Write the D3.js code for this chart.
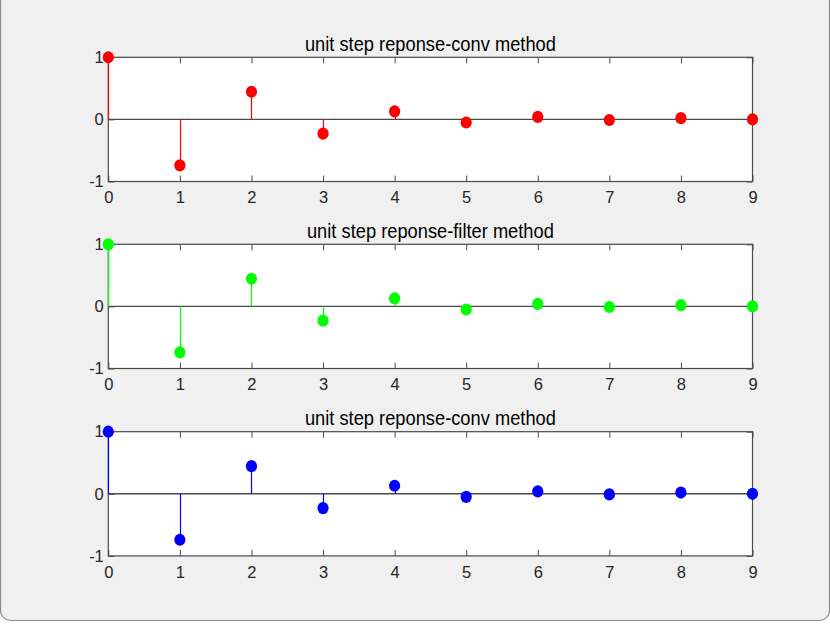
<!DOCTYPE html>
<html>
<head>
<meta charset="utf-8">
<script src="https://cdn.jsdelivr.net/npm/d3@7"></script>
<style>
  html, body { margin: 0; padding: 0; background: #ffffff; }
  svg { display: block; }
  text { font-family: "Liberation Sans", Arial, sans-serif; }
</style>
</head>
<body>
<svg id="chart" width="830" height="624"></svg>
<script>
// ---- data ----
const n = [0, 1, 2, 3, 4, 5, 6, 7, 8, 9];
const convResponse   = [1, -0.74, 0.445, -0.23, 0.13, -0.05, 0.04, -0.01, 0.02, 0.0];
const filterResponse = [1, -0.74, 0.445, -0.23, 0.13, -0.05, 0.04, -0.01, 0.02, 0.0];
const convResponse2  = [1, -0.74, 0.445, -0.23, 0.13, -0.05, 0.04, -0.01, 0.02, 0.0];
const titles = ["unit step reponse-conv method", "unit step reponse-filter method", "unit step reponse-conv method"];
const colors = ["#ff0000", "#00ff00", "#0000ff"];
const xTicks = [0, 1, 2, 3, 4, 5, 6, 7, 8, 9];
const yTicks = [-1, 0, 1];
const seriesList = [convResponse, filterResponse, convResponse2];

// ---- layout ----
const svg = d3.select("#chart");

// window frame
svg.append("rect")
  .attr("x", 0.5).attr("y", -20).attr("width", 829).attr("height", 640.5)
  .attr("rx", 10).attr("ry", 10)
  .attr("fill", "#f0f0f0").attr("stroke", "#8c8c8c").attr("stroke-width", 1.2);

const axLeft = 108.3, axRight = 752.5;
const axTops = [57.3, 244.3, 431.7];
const axH = 124.2;
const axisColor = "#4a4a4a";
const tickLen = 6;
const fmt = d => String(d);

seriesList.forEach((vals, i) => {
  const top = axTops[i];
  const x = d3.scaleLinear().domain([0, 9]).range([axLeft, axRight]);
  const y = d3.scaleLinear().domain([-1, 1]).range([top + axH, top]);
  const g = svg.append("g");

  // axes background
  g.append("rect")
    .attr("x", axLeft).attr("y", top)
    .attr("width", axRight - axLeft).attr("height", axH)
    .attr("fill", "#ffffff");

  // baseline
  g.append("line")
    .attr("x1", axLeft).attr("x2", axRight)
    .attr("y1", y(0)).attr("y2", y(0))
    .attr("stroke", axisColor).attr("stroke-width", 1.4);

  // axes (ticks inward, box on)
  const bottom = g.append("g").attr("transform", `translate(0,${top + axH})`)
    .call(d3.axisBottom(x).tickValues(xTicks).tickSize(-tickLen).tickPadding(10).tickFormat(fmt));
  const topAx = g.append("g").attr("transform", `translate(0,${top})`)
    .call(d3.axisTop(x).tickValues(xTicks).tickSize(-tickLen).tickFormat(""));
  const left = g.append("g").attr("transform", `translate(${axLeft},0)`)
    .call(d3.axisLeft(y).tickValues(yTicks).tickSize(-tickLen).tickPadding(4.5).tickFormat(fmt));
  const right = g.append("g").attr("transform", `translate(${axRight},0)`)
    .call(d3.axisRight(y).tickValues(yTicks).tickSize(-tickLen).tickFormat(""));

  [bottom, topAx, left, right].forEach(a => {
    a.attr("font-size", null).attr("font-family", null);
    a.select(".domain").remove();
    a.selectAll(".tick line").attr("stroke", axisColor).attr("stroke-width", 1);
    a.selectAll(".tick text")
      .attr("fill", "#262626")
      .style("font-family", "'Liberation Sans', Arial, sans-serif")
      .style("font-size", "16.5px");
  });

  // box
  g.append("rect")
    .attr("x", axLeft).attr("y", top)
    .attr("width", axRight - axLeft).attr("height", axH)
    .attr("fill", "none").attr("stroke", axisColor).attr("stroke-width", 1.2);

  // stems
  g.selectAll(".stem").data(vals).enter().append("line")
    .attr("class", "stem")
    .attr("x1", (d, k) => Math.round(x(n[k])) + 0.5).attr("x2", (d, k) => Math.round(x(n[k])) + 0.5)
    .attr("y1", y(0)).attr("y2", d => y(d))
    .attr("stroke", colors[i]).attr("stroke-width", 1.2);

  // markers
  g.selectAll(".dot").data(vals).enter().append("ellipse")
    .attr("class", "dot")
    .attr("cx", (d, k) => x(n[k])).attr("cy", d => y(d))
    .attr("rx", 5.6).attr("ry", 6.1)
    .attr("fill", colors[i]);

  // title (slightly tall glyphs as in the reference)
  g.append("g")
    .attr("transform", `translate(${(axLeft + axRight) / 2},${top - 6.3}) scale(1,1.12)`)
    .append("text")
    .attr("text-anchor", "middle")
    .style("font-size", "18.3px")
    .attr("fill", "#000")
    .text(titles[i]);
});
</script>
</body>
</html>
